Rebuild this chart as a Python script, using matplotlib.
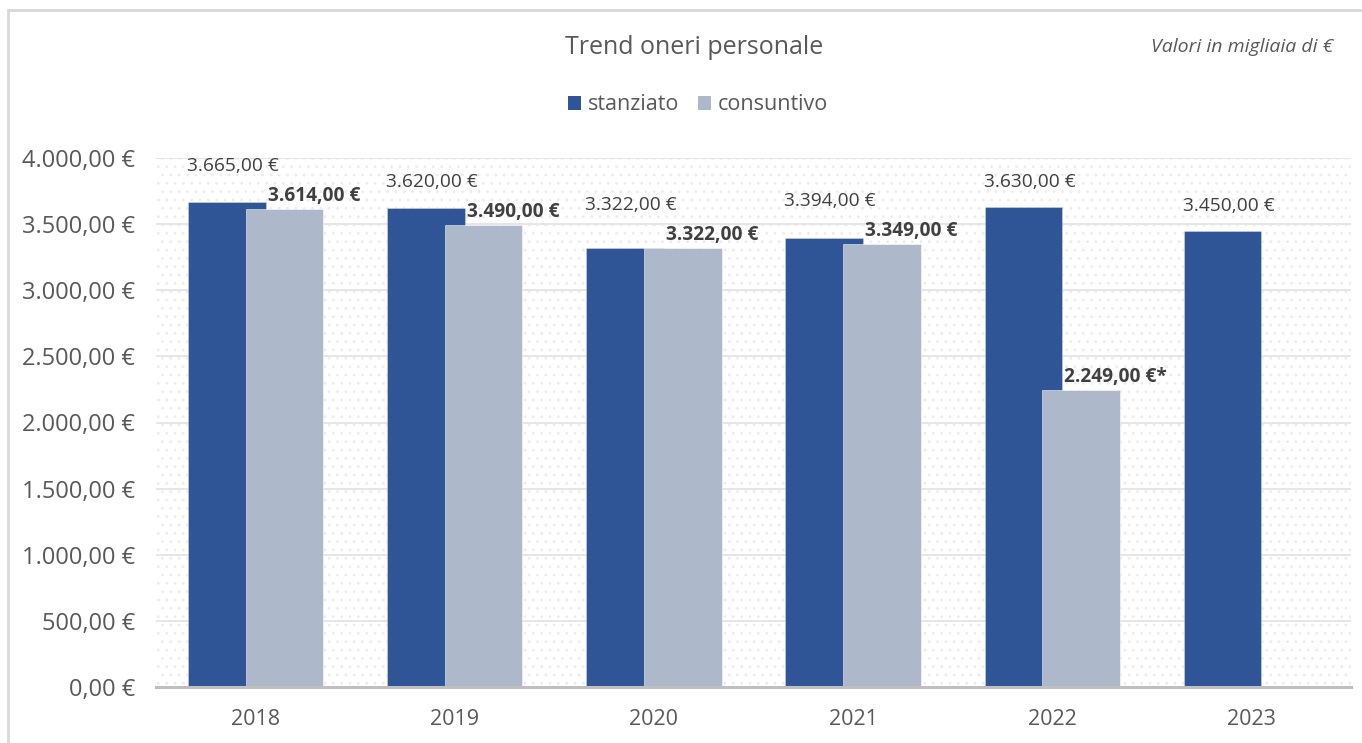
import matplotlib
matplotlib.use("Agg")
import matplotlib.pyplot as plt
from matplotlib.patches import Rectangle, Patch
import numpy as np

# ---------------------------------------------------------------------------
# Data (thousands of euro)
# ---------------------------------------------------------------------------
years = ["2018", "2019", "2020", "2021", "2022", "2023"]
stanziato = [3665, 3620, 3322, 3394, 3630, 3450]
consuntivo = [3614, 3490, 3322, 3349, 2249, np.nan]
consuntivo_note = ["", "", "", "", "*", ""]
y_ticks = [0, 500, 1000, 1500, 2000, 2500, 3000, 3500, 4000]

BLUE = "#2F5597"
GREY = "#ADB9CA"
TXT = "#595959"
LBL = "#404040"

plt.rcParams["font.family"] = ["Open Sans", "DejaVu Sans"]
plt.rcParams["hatch.color"] = "#ececec"
plt.rcParams["hatch.linewidth"] = 0.8


def euro(v):
    s = f"{v:,.2f}".replace(",", "X").replace(".", ",").replace("X", ".")
    return s + " €"


W, H, DPI = 1362, 743, 100
fig = plt.figure(figsize=(W / DPI, H / DPI), dpi=DPI)
ax_l, ax_r, ax_t, ax_b = 156, 1351, 158, 687
ax = fig.add_axes([ax_l / W, (H - ax_b) / H, (ax_r - ax_l) / W, (ax_b - ax_t) / H])

x = np.arange(len(years))
bw, off = 0.39, 0.145
ymax = 4000
px_per_val = (ax_b - ax_t) / ymax
pt = 72 / DPI

# faint dotted plot-area background
ax.add_patch(Rectangle((0, 0), 1, 1, transform=ax.transAxes, facecolor="white",
                       edgecolor="#ececec", linewidth=0, hatch="..", zorder=0.1))

ax.bar(x - off, stanziato, bw, color=BLUE, edgecolor=(1, 1, 1, 0.35),
       linewidth=0.6, zorder=3)
ax.bar(x + off, consuntivo, bw, color=GREY, edgecolor=(1, 1, 1, 0.6),
       linewidth=0.6, zorder=4)

# data labels
for i, (s, c, note) in enumerate(zip(stanziato, consuntivo, consuntivo_note)):
    blue_px = 25
    if not np.isnan(c):
        grey_px = 13
        ax.annotate(euro(c) + note, (i - off + bw / 2, c), xytext=(2 * pt, grey_px * pt),
                    textcoords="offset points", ha="left", va="center",
                    fontsize=13.8, fontweight="bold", color=LBL, zorder=5)
        # keep the plain label clear of the bold one
        gap = (s - c) * px_per_val
        blue_px = max(blue_px, grey_px + 30 - gap)
    ax.annotate(euro(s), (i - off + 0.03, s), xytext=(0, blue_px * pt),
                textcoords="offset points", ha="center", va="center",
                fontsize=13.8, color=LBL, zorder=5)

ax.set_xlim(-0.5, len(years) - 0.5)
ax.set_ylim(0, ymax)
ax.set_yticks(y_ticks)
ax.set_yticklabels([euro(v) for v in y_ticks])
ax.set_xticks(x)
ax.set_xticklabels(years)
ax.tick_params(axis="y", length=0, pad=15, labelsize=17, labelcolor=TXT)
ax.tick_params(axis="x", length=0, pad=16, labelsize=15.5, labelcolor=TXT)
ax.grid(axis="y", color="#e6e6e6", linewidth=1.4, zorder=1)
ax.set_axisbelow("line")
for side in ("left", "right", "top"):
    ax.spines[side].set_visible(False)
ax.spines["bottom"].set_color("#bfbfbf")
ax.spines["bottom"].set_linewidth(2.2)
ax.spines["bottom"].set_zorder(6)

# title, note, legend
fig.text(694 / W, 1 - 47 / H, "Trend oneri personale", ha="center", va="center",
         fontsize=18, color=TXT)
fig.text(1333 / W, 1 - 47 / H, "Valori in migliaia di €", ha="right", va="center",
         fontsize=14, style="italic", color=TXT)
handles = [Patch(facecolor=BLUE, label="stanziato"), Patch(facecolor=GREY, label="consuntivo")]
fig.legend(handles=handles, loc="center", bbox_to_anchor=(698 / W, 1 - 105 / H), ncol=2,
           frameon=False, fontsize=15.5, handlelength=0.6, handleheight=0.6,
           handletextpad=0.3, columnspacing=0.9, labelcolor=TXT)

# chart-area frame (cut at right/bottom like the source)
fig.patches.append(Rectangle((8 / W, -0.1), 1.0, 1.1 - 10 / H, transform=fig.transFigure,
                             fill=False, edgecolor="#d9d9d9", linewidth=2.0))

fig.savefig("out.png", dpi=DPI, facecolor="white")
